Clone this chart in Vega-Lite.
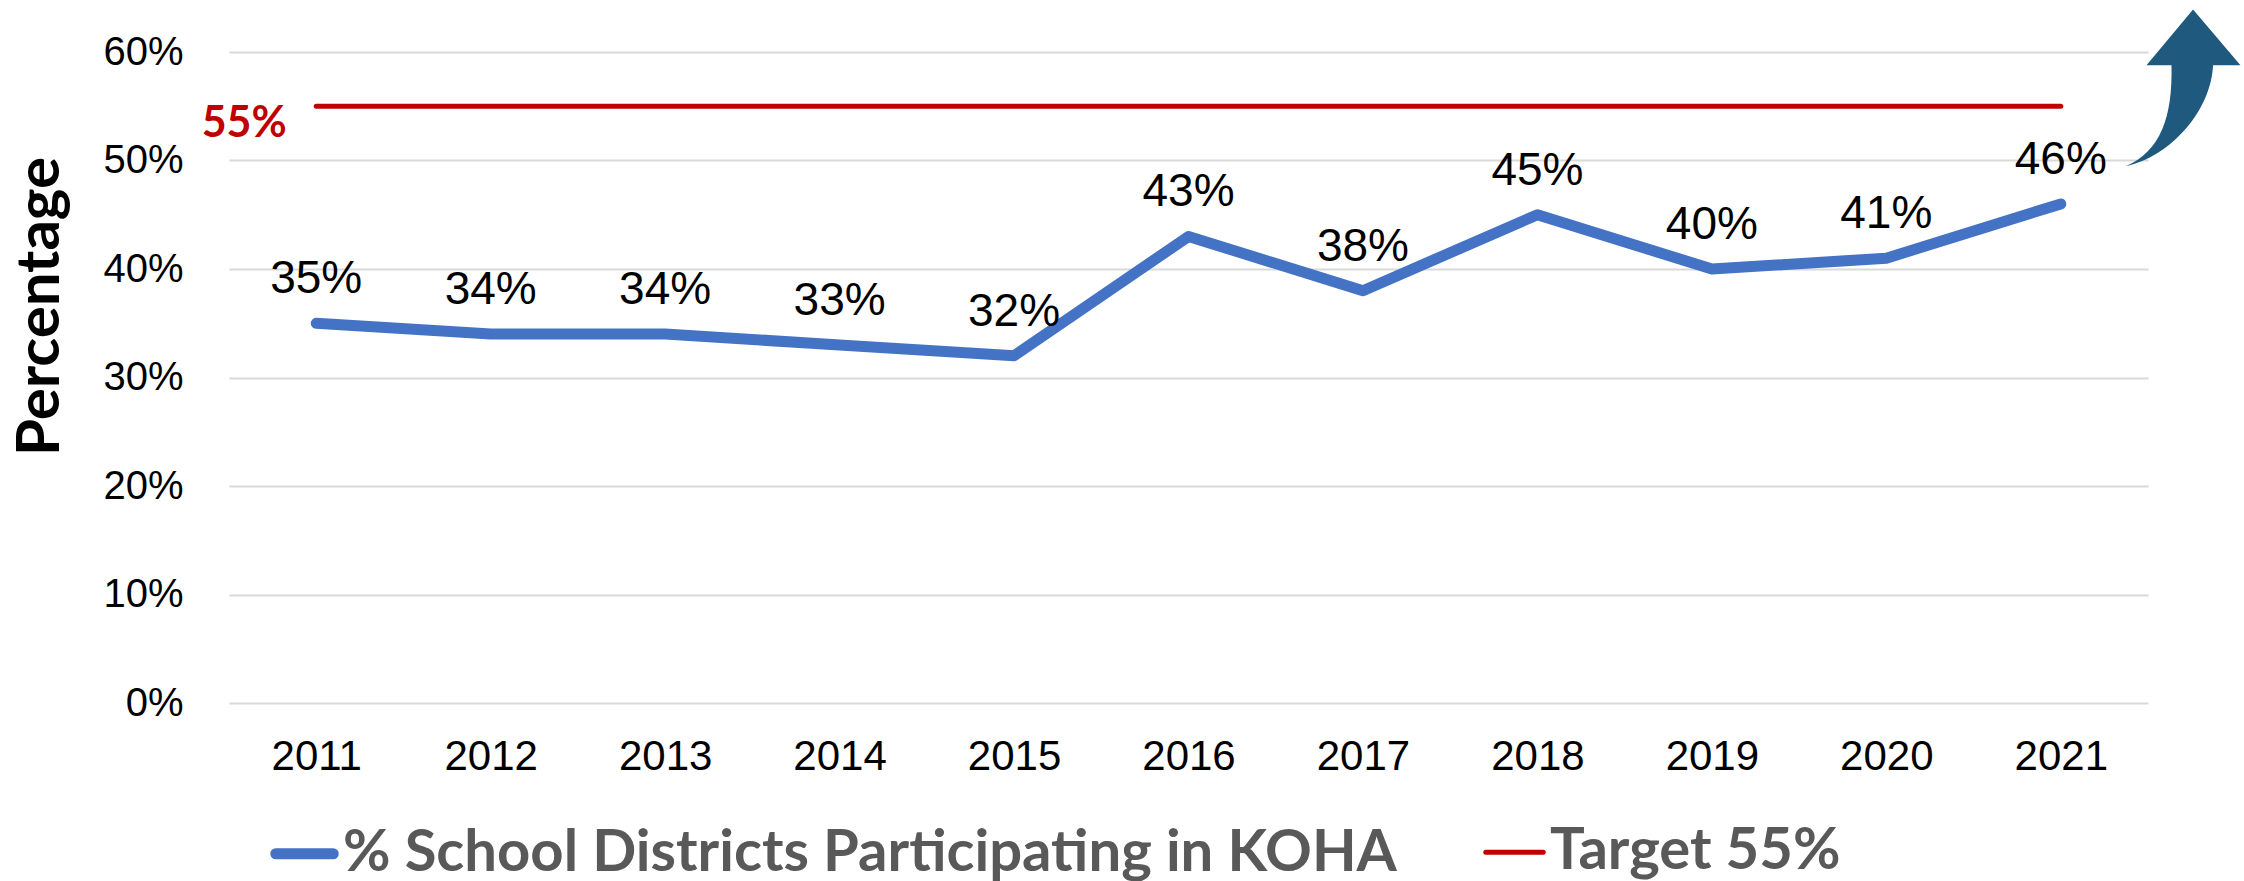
{
  "$schema": "https://vega.github.io/schema/vega-lite/v6.json",
  "width": 1919,
  "height": 651,
  "autosize": {"type": "none"},
  "padding": {"left": 229, "top": 52, "right": 96, "bottom": 178},
  "background": "white",
  "config": {"view": {"stroke": null}},
  "data": {
    "values": [
      {"Year": "2011", "Series": "% School Districts Participating in KOHA", "Value": 0.35},
      {"Year": "2012", "Series": "% School Districts Participating in KOHA", "Value": 0.34},
      {"Year": "2013", "Series": "% School Districts Participating in KOHA", "Value": 0.34},
      {"Year": "2014", "Series": "% School Districts Participating in KOHA", "Value": 0.33},
      {"Year": "2015", "Series": "% School Districts Participating in KOHA", "Value": 0.32},
      {"Year": "2016", "Series": "% School Districts Participating in KOHA", "Value": 0.43},
      {"Year": "2017", "Series": "% School Districts Participating in KOHA", "Value": 0.38},
      {"Year": "2018", "Series": "% School Districts Participating in KOHA", "Value": 0.45},
      {"Year": "2019", "Series": "% School Districts Participating in KOHA", "Value": 0.40},
      {"Year": "2020", "Series": "% School Districts Participating in KOHA", "Value": 0.41},
      {"Year": "2021", "Series": "% School Districts Participating in KOHA", "Value": 0.46},
      {"Year": "2011", "Series": "Target 55%", "Value": 0.55},
      {"Year": "2012", "Series": "Target 55%", "Value": 0.55},
      {"Year": "2013", "Series": "Target 55%", "Value": 0.55},
      {"Year": "2014", "Series": "Target 55%", "Value": 0.55},
      {"Year": "2015", "Series": "Target 55%", "Value": 0.55},
      {"Year": "2016", "Series": "Target 55%", "Value": 0.55},
      {"Year": "2017", "Series": "Target 55%", "Value": 0.55},
      {"Year": "2018", "Series": "Target 55%", "Value": 0.55},
      {"Year": "2019", "Series": "Target 55%", "Value": 0.55},
      {"Year": "2020", "Series": "Target 55%", "Value": 0.55},
      {"Year": "2021", "Series": "Target 55%", "Value": 0.55}
    ]
  },
  "encoding": {
    "x": {
      "field": "Year",
      "type": "ordinal",
      "scale": {"type": "point", "padding": 0.5},
      "axis": {
        "title": null,
        "labelAngle": 0,
        "labelFont": "Liberation Sans",
        "labelFontSize": 42,
        "labelColor": "#000000",
        "labelPadding": 33,
        "ticks": false,
        "domain": false,
        "grid": false
      }
    },
    "y": {
      "field": "Value",
      "type": "quantitative",
      "scale": {"domain": [0, 0.6], "nice": false, "zero": true},
      "axis": {
        "title": "Percentage",
        "titleFont": "Lato",
        "titleFontSize": 60,
        "titleFontWeight": "bold",
        "titleColor": "#000000",
        "titleAngle": -90,
        "titleX": -189,
        "titleY": 254,
        "titleAlign": "center",
        "titleBaseline": "middle",
        "values": [0, 0.1, 0.2, 0.3, 0.4, 0.5, 0.6],
        "format": ".0%",
        "labelFont": "Liberation Sans",
        "labelFontSize": 40,
        "labelColor": "#000000",
        "labelPadding": 46,
        "ticks": false,
        "domain": false,
        "grid": true,
        "gridColor": "#D9D9D9",
        "gridWidth": 2
      }
    }
  },
  "layer": [
    {
      "mark": {"type": "line", "strokeCap": "round", "strokeJoin": "round"},
      "encoding": {
        "color": {
          "field": "Series",
          "type": "nominal",
          "scale": {
            "domain": ["% School Districts Participating in KOHA", "Target 55%"],
            "range": ["#4472C4", "#C00000"]
          },
          "legend": {
            "orient": "none",
            "legendX": 41,
            "legendY": 767,
            "direction": "horizontal",
            "title": null,
            "padding": 0,
            "symbolType": "stroke",
            "symbolSize": 3300,
            "labelFont": "Lato",
            "labelFontSize": 58,
            "labelFontWeight": "bold",
            "labelColor": "#595959",
            "labelLimit": 0,
            "labelOffset": 4,
            "columnPadding": 78,
            "encode": {
              "symbols": {
                "update": {
                  "strokeWidth": {"signal": "datum.value === 'Target 55%' ? 5 : 12"},
                  "strokeCap": {"value": "round"}
                }
              }
            }
          }
        },
        "strokeWidth": {
          "field": "Series",
          "type": "nominal",
          "scale": {
            "domain": ["% School Districts Participating in KOHA", "Target 55%"],
            "range": [11, 5]
          },
          "legend": null
        }
      }
    },
    {
      "transform": [{"filter": "datum.Series !== 'Target 55%'"}],
      "mark": {
        "type": "text",
        "font": "Liberation Sans",
        "fontSize": 46,
        "color": "#000000",
        "dy": -30,
        "baseline": "alphabetic",
        "align": "center"
      },
      "encoding": {"text": {"field": "Value", "type": "quantitative", "format": ".0%"}}
    },
    {
      "data": {"values": [{"Year": "2011", "Value": 0.55}]},
      "mark": {
        "type": "text",
        "font": "Lato",
        "fontSize": 43,
        "fontWeight": "bold",
        "color": "#C00000",
        "dx": -72,
        "dy": 31,
        "baseline": "alphabetic",
        "align": "center"
      },
      "encoding": {"text": {"field": "Value", "type": "quantitative", "format": ".0%"}}
    },
    {
      "data": {"values": [{"Year": "2021", "Value": 0.55}]},
      "mark": {
        "type": "point",
        "shape": "M 1.323 -0.967 L 1.797 -0.41 L 1.523 -0.41 C 1.50 0.05 1.10 0.50 0.65 0.60 C 1.0 0.45 1.12 0.10 1.107 -0.41 L 0.857 -0.41 Z",
        "filled": true,
        "fill": "#1F5A7E",
        "opacity": 1,
        "strokeWidth": 0,
        "size": 40000
      }
    }
  ]
}
